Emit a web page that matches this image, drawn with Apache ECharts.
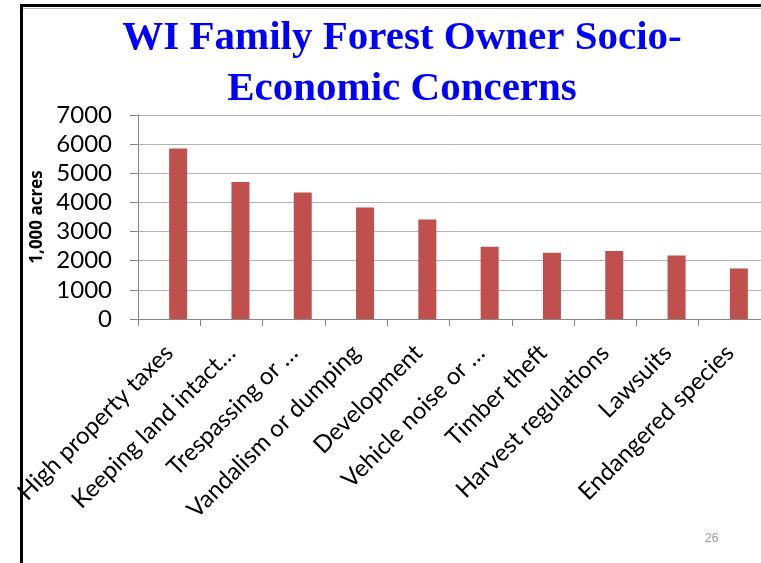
<!DOCTYPE html>
<html>
<head>
<meta charset="utf-8">
<script src="https://cdn.jsdelivr.net/npm/echarts@6/dist/echarts.min.js"></script>
<style>
html,body{margin:0;padding:0;background:#fff;}
#chart{width:761px;height:563px;}
</style>
</head>
<body>
<div id="chart"></div>
<script>
const categories = ["High property taxes","Keeping land intact…","Trespassing or …","Vandalism or dumping","Development","Vehicle noise or …","Timber theft","Harvest regulations","Lawsuits","Endangered species"];
const acres = [5850, 4700, 4340, 3825, 3410, 2480, 2275, 2330, 2175, 1735];
const emptySeries = [];
const yTicks = {min: 0, max: 7000, interval: 1000};
const titleText = "WI Family Forest Owner Socio-\nEconomic Concerns";
const yName = "1,000 acres";
const pageNo = "26";

const chart = echarts.init(document.getElementById('chart'), null, {renderer: 'canvas'});
chart.setOption({
  backgroundColor: '#fff',
  animation: false,
  title: {
    text: titleText,
    left: 397, top: 8, textAlign: 'center',
    textStyle: {fontFamily: 'Liberation Serif', fontWeight: 'bold', fontSize: 41, color: '#0000FF', lineHeight: 51}
  },
  grid: {left: 138, right: -1, top: 115, bottom: 244, containLabel: false},
  xAxis: {
    type: 'category', data: categories,
    axisLine: {lineStyle: {color: '#868686', width: 1}},
    axisTick: {show: true, length: 7, lineStyle: {color: '#868686'}},
    axisLabel: {interval: 0, rotate: 45, margin: 30, fontFamily: 'Lato', fontSize: 24, color: '#000'}
  },
  yAxis: {
    type: 'value', min: yTicks.min, max: yTicks.max, interval: yTicks.interval,
    name: yName, nameLocation: 'middle', nameGap: 92, nameRotate: 90,
    nameTextStyle: {fontFamily: 'Open Sans', fontWeight: 'bold', fontSize: 17, color: '#000'},
    axisLine: {show: true, lineStyle: {color: '#868686'}},
    axisTick: {show: true, length: 8, lineStyle: {color: '#868686'}},
    splitLine: {lineStyle: {color: '#b3b3b3'}},
    axisLabel: {margin: 26, fontFamily: 'Lato', fontSize: 24, color: '#000', formatter: v => String(v)}
  },
  series: [
    {type: 'bar', data: emptySeries, barWidth: 18, barGap: 0},
    {type: 'bar', data: acres, barWidth: 18, barGap: 0, itemStyle: {color: '#C0504D'}}
  ],
  graphic: [
    {type: 'rect', shape: {x: 20, y: 4, width: 741, height: 3}, style: {fill: '#000'}, silent: true},
    {type: 'rect', shape: {x: 22, y: 8, width: 739, height: 1}, style: {fill: '#bbb'}, silent: true},
    {type: 'rect', shape: {x: 20, y: 4, width: 3, height: 559}, style: {fill: '#000'}, silent: true},
    {type: 'text', left: 705, top: 533, style: {text: pageNo, fontFamily: 'Liberation Sans', fontSize: 12, fill: '#999'}}
  ]
});
</script>
</body>
</html>
